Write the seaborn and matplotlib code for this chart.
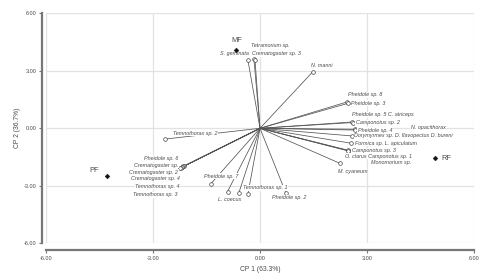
import matplotlib
matplotlib.use("Agg")
import matplotlib.pyplot as plt
import seaborn as sns
import pandas as pd

# ---- data ----
species = [
    "S. geminata", "Tetramorium sp.", "Crematogaster sp. 3", "N. manni",
    "Pheidole sp. 8", "Pheidole sp. 3", "Pheidole sp. 5 C. atriceps", "Camponotus sp. 2",
    "N. opacithorax", "Pheidole sp. 4", "Dorymyrmex sp. D. flavopectus D. bureni",
    "Formica sp. L. apiculatum", "Camponotus sp. 3", "O. clarus Camponotus sp. 1",
    "Monomorium sp.", "M. cyaneum",
    "Temnothorax sp. 2", "Pheidole sp. 6", "Crematogaster sp.", "Crematogaster sp. 2",
    "Crematogaster sp. 4", "Temnothorax sp. 4", "Temnothorax sp. 3",
    "Pheidole sp. 7", "L. coecus", "", "Temnothorax sp. 1", "Pheidole sp. 2",
]
cp1 = [-0.34, -0.17, -0.14, 1.48,
       2.45, 2.48, 2.59, 2.60,
       2.66, 2.65, 2.59,
       2.56, 2.49, 2.46,
       2.47, 2.23,
       -2.65, -2.12, -2.15, -2.18,
       -2.20, -2.22, -2.23,
       -1.38, -0.91, -0.59, -0.34, 0.72]
cp2 = [3.56, 3.60, 3.58, 2.95,
       1.38, 1.31, 0.33, 0.30,
       -0.05, -0.09, -0.40,
       -0.78, -1.17, -1.14,
       -1.18, -1.82,
       -0.56, -1.96, -1.99, -2.02,
       -2.04, -2.06, -2.07,
       -2.90, -3.30, -3.35, -3.44, -3.35]

sites = ["MF", "PF", "RF"]
site_cp1 = [-0.66, -4.29, 4.92]
site_cp2 = [4.11, -2.47, -1.56]

ticks = [-6, -3, 0, 3, 6]
tick_labels = ["-6.00", "-3.00", "0.00", "3.00", "6.00"]
xlabel = "CP 1 (63.3%)"
ylabel = "CP 2 (36.7%)"

# label placement (offset in pixels from the vector tip, alignment)
label_pos = {
    "S. geminata": (1, 7, "right"),
    "Tetramorium sp.": (-3, 14, "left"),
    "Crematogaster sp. 3": (-3, 6, "left"),
    "N. manni": (-2, 6, "left"),
    "Pheidole sp. 8": (1, 7, "left"),
    "Pheidole sp. 3": (3, 0, "left"),
    "Pheidole sp. 5 C. atriceps": (0, 7, "left"),
    "Camponotus sp. 2": (3, 0, "left"),
    "N. opacithorax": (56, 2, "left"),
    "Pheidole sp. 4": (3, 0, "left"),
    "Dorymyrmex sp. D. flavopectus D. bureni": (2, 0, "left"),
    "Formica sp. L. apiculatum": (4, 0, "left"),
    "Camponotus sp. 3": (3, 0, "left"),
    "O. clarus Camponotus sp. 1": (-3, -6, "left"),
    "Monomorium sp.": (23, -12, "left"),
    "M. cyaneum": (-2, -8, "left"),
    "Temnothorax sp. 2": (52, 6, "right"),
    "Pheidole sp. 6": (-6, 7, "right"),
    "Crematogaster sp.": (-5, 1, "right"),
    "Crematogaster sp. 2": (-4, -5, "right"),
    "Crematogaster sp. 4": (-2, -11.5, "right"),
    "Temnothorax sp. 4": (-1, -18.5, "right"),
    "Temnothorax sp. 3": (-3, -27, "right"),
    "Pheidole sp. 7": (-7, 7.5, "left"),
    "L. coecus": (2, -7.5, "center"),
    "Temnothorax sp. 1": (-5, 6.5, "left"),
    "Pheidole sp. 2": (4, -5, "center"),
}
site_pos = {"MF": (0, 9, "center"), "PF": (-13, 5, "center"), "RF": (6, 0, "left")}

sns.set_theme(style="white")
plt.rcParams["font.family"] = ["Liberation Sans", "DejaVu Sans"]

TXT = "#4a4a4a"
LINE = "#555555"

fig = plt.figure(figsize=(4.92, 2.76), dpi=100)
ax = fig.add_axes([46 / 492, 1 - 243.3 / 276, 428 / 492, 230 / 276])
ax.set_xlim(-6, 6)
ax.set_ylim(-6, 6)

# grid / frame
for t in ticks:
    ax.axvline(t, color="#e2e2e2", lw=0.9, zorder=0.5)
    ax.axhline(t, color="#e2e2e2", lw=0.9, zorder=0.5)

df = pd.DataFrame({"species": species, "cp1": cp1, "cp2": cp2})
for x, y in zip(df.cp1, df.cp2):
    ax.plot([0, x], [0, y], color=LINE, lw=0.55, zorder=2, solid_capstyle="butt")
sns.scatterplot(data=df, x="cp1", y="cp2", ax=ax, marker="o", s=7,
                facecolor="white", edgecolor="#444444", linewidth=0.5, zorder=3, legend=False)

for name, x, y in zip(df.species, df.cp1, df.cp2):
    if not name:
        continue
    dx, dy, ha = label_pos[name]
    ax.annotate(name, (x, y), xytext=(dx, dy), textcoords="offset pixels",
                ha=ha, va="center", fontsize=3.9, style="italic", color=TXT, zorder=4,
                bbox=dict(boxstyle="square,pad=0.08", fc="white", ec="none"))

sdf = pd.DataFrame({"site": sites, "cp1": site_cp1, "cp2": site_cp2})
sns.scatterplot(data=sdf, x="cp1", y="cp2", ax=ax, marker="D", s=6,
                color="#111111", edgecolor="#111111", linewidth=0.3, zorder=5, legend=False)
for name, x, y in zip(sdf.site, sdf.cp1, sdf.cp2):
    dx, dy, ha = site_pos[name]
    ax.annotate(name, (x, y), xytext=(dx, dy), textcoords="offset pixels",
                ha=ha, va="center", fontsize=5.3, color=TXT, zorder=5)

# axes styling
for s in ["top", "right"]:
    ax.spines[s].set_visible(False)
ax.spines["left"].set_position(("outward", 3))
ax.spines["bottom"].set_position(("outward", 5))
for s in ["left", "bottom"]:
    ax.spines[s].set_color("#777777")
    ax.spines[s].set_linewidth(1.6)
ax.set_xticks(ticks)
ax.set_yticks(ticks)
ax.set_xticklabels(tick_labels)
ax.set_yticklabels(tick_labels)
ax.tick_params(axis="both", which="major", direction="out", length=2.5, width=0.8,
               color="#777777", labelsize=4.0, labelcolor=TXT, pad=1.5,
               left=True, bottom=True)
ax.set_xlabel(xlabel, fontsize=4.9, color=TXT, labelpad=4)
ax.set_ylabel(ylabel, fontsize=4.9, color=TXT, labelpad=2)

fig.savefig("out.png", dpi=100, facecolor="white")
